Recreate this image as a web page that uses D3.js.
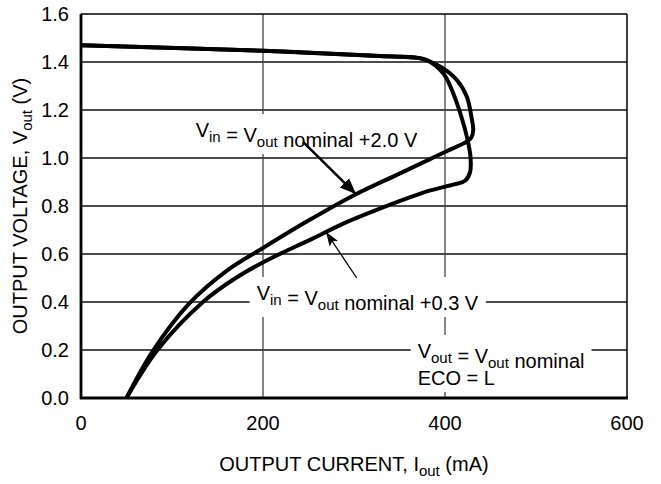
<!DOCTYPE html>
<html><head><meta charset="utf-8">
<script src="https://cdn.jsdelivr.net/npm/d3@7"></script>
<style>body{margin:0;background:#fff} text{font-family:"Liberation Sans",Arial,Helvetica,sans-serif;fill:#000}</style>
</head><body><svg id="c" width="661" height="484"></svg>
<script>
const xTicks = [0, 200, 400, 600];
const yTicks = [0, 0.2, 0.4, 0.6, 0.8, 1.0, 1.2, 1.4, 1.6];
const xTickLabels = ["0", "200", "400", "600"];
const yTickLabels = ["0.0", "0.2", "0.4", "0.6", "0.8", "1.0", "1.2", "1.4", "1.6"];
// Vin = Vout nominal + 2.0 V
const seriesA_I = [50, 78, 118, 160, 200, 248, 300, 350, 400, 424, 429, 431, 429, 424, 413, 395, 372, 328, 200, 0];
const seriesA_V = [0, 0.19, 0.39, 0.53, 0.625, 0.735, 0.845, 0.935, 1.025, 1.068, 1.085, 1.117, 1.172, 1.255, 1.325, 1.38, 1.416, 1.425, 1.447, 1.47];
// Vin = Vout nominal + 0.3 V
const seriesB_I = [50, 84, 134, 170, 205, 255, 290, 329, 362, 384, 410, 422, 427.5, 428, 424, 418, 409, 398, 380, 360, 328, 200, 0];
const seriesB_V = [0, 0.2, 0.4, 0.5, 0.575, 0.665, 0.73, 0.79, 0.837, 0.865, 0.89, 0.905, 0.94, 1.005, 1.089, 1.172, 1.27, 1.353, 1.408, 1.42, 1.425, 1.447, 1.47];

const svg = d3.select("#c");
const FS = 20;
const SUB = 15;
const x = d3.scaleLinear().domain([0, 600]).range([81, 627]);
const y = d3.scaleLinear().domain([0, 1.6]).range([398, 14]);

// gridlines
const g = svg.append("g");
g.selectAll("line.h").data(yTicks.slice(1, -1)).enter().append("line")
  .attr("x1", x(0)).attr("x2", x(600)).attr("y1", d => y(d)).attr("y2", d => y(d))
  .attr("stroke", "#111").attr("stroke-width", 1.3);
g.selectAll("line.v").data(xTicks.slice(1, -1)).enter().append("line")
  .attr("y1", y(0)).attr("y2", y(1.6)).attr("x1", d => x(d)).attr("x2", d => x(d))
  .attr("stroke", "#444").attr("stroke-width", 1.3);

// frame
svg.append("line").attr("x1", x(0)).attr("x2", x(600)).attr("y1", y(1.6)).attr("y2", y(1.6)).attr("stroke", "#000").attr("stroke-width", 1.5);
svg.append("line").attr("x1", x(600)).attr("x2", x(600)).attr("y1", y(1.6)).attr("y2", y(0)).attr("stroke", "#000").attr("stroke-width", 1.5);

// labels with white boxes
function label(gx, gy, parts, extraLines) {
  const grp = svg.append("g");
  const rect = grp.append("rect").attr("fill", "#fff");
  const t = grp.append("text").attr("x", gx).attr("y", gy).attr("font-size", FS);
  parts.forEach(p => {
    if (p.sub) {
      t.append("tspan").attr("font-size", SUB).attr("dy", 5).text(p.sub);
      t.append("tspan").attr("dy", -5).text("");
    } else t.append("tspan").text(p.t);
  });
  (extraLines || []).forEach(l => {
    grp.append("text").attr("x", gx).attr("y", l.y).attr("font-size", FS).text(l.t);
  });
  const bb = grp.node().getBBox();
  rect.attr("x", bb.x - 7).attr("y", bb.y - 5).attr("width", bb.width + 14).attr("height", bb.height + 8);
  return grp;
}
label(x(126), y(1.0875), [{t: "V"}, {sub: "in"}, {t: " = V"}, {sub: "out"}, {t: " nominal +2.0 V"}]);
label(x(193), y(0.408), [{t: "V"}, {sub: "in"}, {t: " = V"}, {sub: "out"}, {t: " nominal +0.3 V"}]);
label(x(370), y(0.167), [{t: "V"}, {sub: "out"}, {t: " = V"}, {sub: "out"}, {t: " nominal"}], [{y: y(0.054), t: "ECO = L"}]);

// axes (left & bottom thick)
svg.append("line").attr("x1", x(0)).attr("x2", x(0)).attr("y1", y(1.6)).attr("y2", y(0) + 1).attr("stroke", "#000").attr("stroke-width", 2.8);
svg.append("line").attr("x1", x(0) - 1).attr("x2", x(600) + 1).attr("y1", y(0)).attr("y2", y(0)).attr("stroke", "#000").attr("stroke-width", 2.8);

// curves
const line = d3.line().x(d => x(d[0])).y(d => y(d[1])).curve(d3.curveCatmullRom.alpha(0.5));
[[seriesA_I, seriesA_V], [seriesB_I, seriesB_V]].forEach(([I, V]) => {
  svg.append("path").datum(I.map((v, i) => [v, V[i]])).attr("d", line)
    .attr("fill", "none").attr("stroke", "#000").attr("stroke-width", 4).attr("stroke-linejoin", "round").attr("stroke-linecap", "butt");
});

// arrows
const defs = svg.append("defs");
defs.append("marker").attr("id", "ah1").attr("viewBox", "0 0 10 10").attr("refX", 9).attr("refY", 5)
  .attr("markerWidth", 6.5).attr("markerHeight", 6.5).attr("markerUnits", "strokeWidth").attr("orient", "auto")
  .append("path").attr("d", "M0,1 L10,5 L0,9 Z").attr("fill", "#000");
defs.append("marker").attr("id", "ah2").attr("viewBox", "0 0 10 10").attr("refX", 9).attr("refY", 5)
  .attr("markerWidth", 11).attr("markerHeight", 11).attr("markerUnits", "strokeWidth").attr("orient", "auto")
  .append("path").attr("d", "M0,1.5 L10,5 L0,8.5 L2,5 Z").attr("fill", "#000");
svg.append("line").attr("x1", x(244)).attr("y1", y(1.067)).attr("x2", x(301)).attr("y2", y(0.854))
  .attr("stroke", "#000").attr("stroke-width", 2.5).attr("marker-end", "url(#ah1)");
svg.append("line").attr("x1", x(303)).attr("y1", y(0.5)).attr("x2", x(270)).attr("y2", y(0.6875))
  .attr("stroke", "#000").attr("stroke-width", 1.3).attr("marker-end", "url(#ah2)");

// tick labels
svg.selectAll("text.yt").data(yTicks).enter().append("text").attr("class", "yt")
  .attr("x", x(0) - 12).attr("y", d => y(d)).attr("dy", "0.35em").attr("text-anchor", "end").attr("font-size", FS)
  .text((d, i) => yTickLabels[i]);
svg.selectAll("text.xt").data(xTicks).enter().append("text").attr("class", "xt")
  .attr("x", d => x(d)).attr("y", y(0) + 32).attr("text-anchor", "middle").attr("font-size", FS)
  .text((d, i) => xTickLabels[i]);

// axis titles
const xt = svg.append("text").attr("x", (x(0) + x(600)) / 2).attr("y", 471).attr("text-anchor", "middle").attr("font-size", FS);
xt.append("tspan").text("OUTPUT CURRENT, I");
xt.append("tspan").attr("font-size", SUB).attr("dy", 5).text("out");
xt.append("tspan").attr("dy", -5).text(" (mA)");
const yt = svg.append("text").attr("transform", `translate(27,${(y(0) + y(1.6)) / 2}) rotate(-90)`).attr("text-anchor", "middle").attr("font-size", FS);
yt.append("tspan").text("OUTPUT VOLTAGE, V");
yt.append("tspan").attr("font-size", SUB).attr("dy", 5).text("out");
yt.append("tspan").attr("dy", -5).text(" (V)");
</script></body></html>
